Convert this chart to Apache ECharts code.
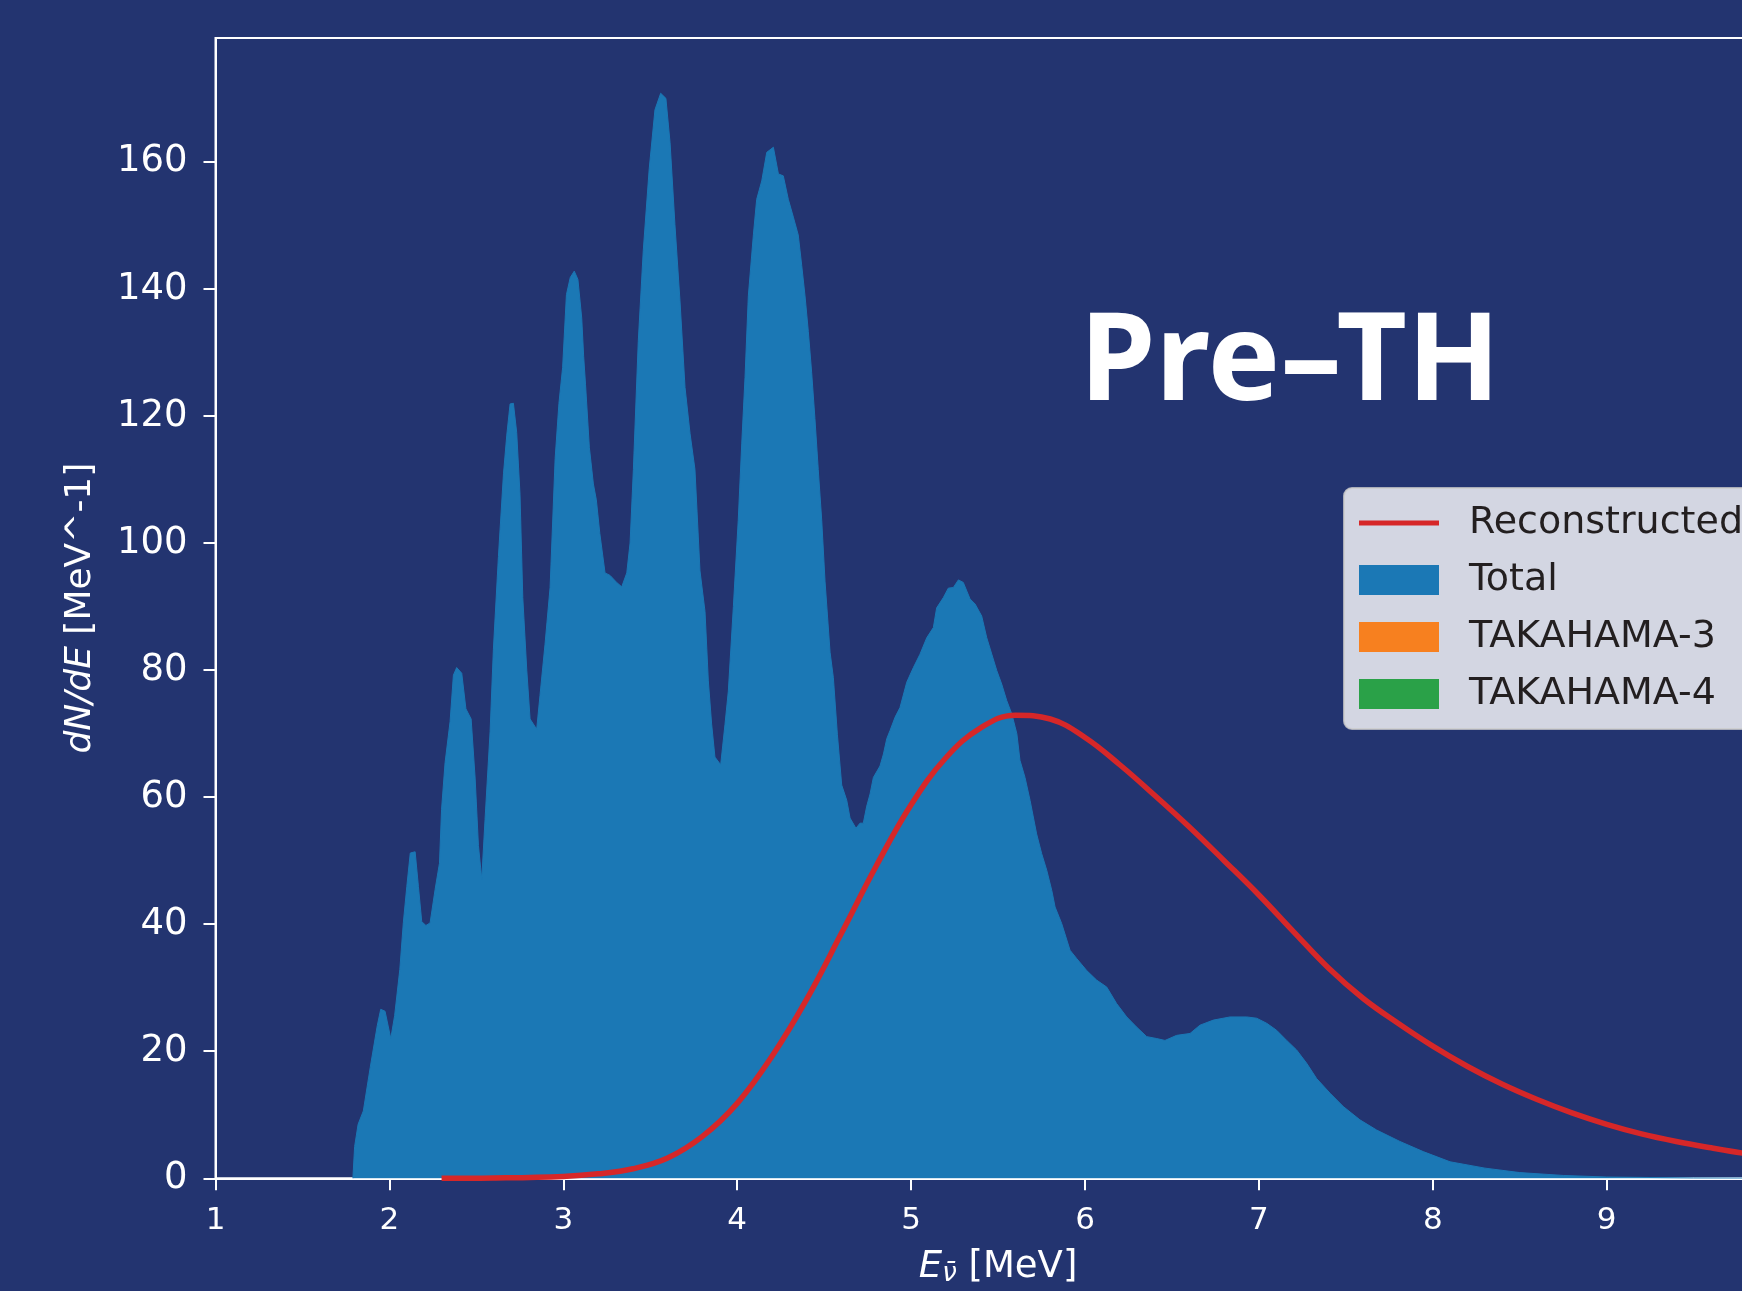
<!DOCTYPE html>
<html>
<head>
<meta charset="utf-8">
<title>Pre-TH</title>
<script src="https://cdn.jsdelivr.net/npm/echarts@6/dist/echarts.min.js"></script>
<style>
    html, body { margin: 0; padding: 0; background: #233470; }
    #chart { width: 1742px; height: 1291px; }
</style>
</head>
<body>
<div id="chart"></div>
<script>
// total spectrum
const totalE = [1.79,1.80,1.82,1.85,1.89,1.93,1.95,1.975,2.008,2.03,2.06,2.08,2.10,2.12,2.148,2.167,2.186,2.21,2.234,2.263,2.288,2.30,2.32,2.349,2.368,2.387,2.416,2.44,2.47,2.493,2.512,2.531,2.55,2.579,2.598,2.627,2.656,2.675,2.694,2.713,2.732,2.751,2.767,2.79,2.809,2.847,2.866,2.895,2.924,2.953,2.975,2.996,3.018,3.04,3.063,3.084,3.106,3.117,3.128,3.15,3.173,3.19,3.21,3.24,3.269,3.307,3.336,3.365,3.384,3.403,3.431,3.46,3.494,3.527,3.56,3.59,3.614,3.642,3.671,3.70,3.729,3.757,3.786,3.815,3.834,3.853,3.872,3.905,3.93,3.949,3.978,4.006,4.026,4.045,4.064,4.093,4.112,4.141,4.17,4.208,4.237,4.265,4.294,4.323,4.351,4.371,4.39,4.409,4.428,4.447,4.466,4.486,4.505,4.534,4.553,4.576,4.601,4.63,4.649,4.683,4.706,4.725,4.745,4.764,4.783,4.821,4.841,4.86,4.879,4.908,4.936,4.975,5.013,5.051,5.09,5.128,5.147,5.185,5.214,5.243,5.272,5.30,5.339,5.368,5.406,5.435,5.464,5.493,5.521,5.55,5.579,5.608,5.626,5.655,5.684,5.722,5.751,5.78,5.809,5.828,5.866,5.914,5.952,6.01,6.067,6.125,6.182,6.24,6.297,6.355,6.412,6.46,6.527,6.604,6.661,6.738,6.834,6.93,6.987,7.045,7.102,7.16,7.217,7.275,7.332,7.409,7.485,7.581,7.677,7.811,7.945,8.099,8.3,8.5,8.75,9.0,9.5,10.0];
const totalN = [0,5,8.5,10.6,17.5,24,26.6,26.3,22.0,25.6,32.9,40.2,45.9,51.2,51.4,45.9,40.4,39.8,40.2,45.5,49.6,58.1,65.4,71.9,79.2,80.4,79.5,73.9,72.3,63.0,52.4,47.1,56.5,70.3,83.3,97.9,110.9,117,121.9,122,117.4,107.7,91.4,80.0,72.3,70.7,76.0,84.1,93.0,113.3,122,127.6,139.1,141.8,142.8,141.5,135.4,129.4,124.9,115,109.3,106.8,101.5,95.3,94.9,93.8,93.1,95.3,100,111.6,131.7,146.1,158.9,168.2,170.8,170.0,163.0,150.1,138.1,124.5,117.2,111.6,95.6,89.2,78.3,71.5,66.3,65.1,71.5,76.7,90.0,103.6,115.6,126.1,138.9,148.5,154.1,157.0,161.5,162.3,158.1,157.8,154.1,151.3,148.5,143.7,138.9,133.3,126.9,119.6,111.6,103.6,94.0,82.8,78.8,69.9,61.9,59.5,56.7,55.1,55.9,55.9,58.6,60.5,63.1,64.9,66.8,69.2,70.5,72.6,74.1,78.1,80.4,82.5,85.1,86.7,89.8,91.4,92.9,93.0,94.2,93.8,91.2,90.4,88.5,85.1,82.5,79.9,77.8,75.2,73.1,70.0,65.8,63.1,59.5,54.2,51.1,48.5,45.3,42.7,40.1,35.9,34.6,32.7,31.2,30.1,27.5,25.4,23.8,22.3,22.0,21.7,22.5,22.8,24.1,24.9,25.4,25.4,25.2,24.4,23.3,21.7,20.2,18.1,15.7,13.4,11.3,9.2,7.6,5.8,4.2,2.6,1.6,0.9,0.45,0.2,0.05,0];

// reconstructed curve
const recoE = [2.3,2.6,3.0,3.2,3.4,3.6,3.8,4.0,4.2,4.4,4.6,4.8,5.0,5.2,5.4,5.6,5.8,6.0,6.2,6.4,6.6,6.8,7.0,7.2,7.4,7.6,7.8,8.0,8.2,8.4,8.6,8.8,9.0,9.2,9.4,9.6,9.8,10.0];
const recoN = [0,0.05,0.3,0.7,1.5,3.2,6.6,11.8,19.2,28.2,38.6,49.2,58.8,66.2,70.9,72.9,72.3,69.4,65.1,60.3,55.3,50.0,44.6,38.8,33.1,28.3,24.4,20.8,17.6,14.8,12.4,10.3,8.5,7.0,5.8,4.8,3.9,3.2];

const xTicks = [1,2,3,4,5,6,7,8,9,10];
const yTicks = [0,20,40,60,80,100,120,140,160];
const legendNames = ['Reconstructed','Total','TAKAHAMA-3','TAKAHAMA-4'];

const bgColor = '#233470';
const blue = '#1b78b5';
const red = '#d62728';

const totalData = totalE.map((e, i) => [e, totalN[i]]);
const recoData = recoE.map((e, i) => [e, recoN[i]]);

const chart = echarts.init(document.getElementById('chart'));
chart.setOption({
    backgroundColor: bgColor,
    animation: false,
    grid: {
        left: 215.5,
        top: 38,
        right: -38.6,
        bottom: 112.7,
        outerBoundsMode: 'none',
        containLabel: false,
        show: true,
        borderColor: '#fff',
        borderWidth: 2,
        backgroundColor: 'transparent'
    },
    graphic: [{
        type: 'text',
        x: 1290,
        y: 365,
        style: {
            text: 'Pre–TH',
            fill: '#fff',
            font: 'bold 122px "Noto Sans"',
            textAlign: 'center',
            textVerticalAlign: 'middle'
        }
    }],
    legend: {
        orient: 'vertical',
        left: 1344,
        top: 488,
        padding: [16, 30, 16, 15],
        itemWidth: 80,
        itemHeight: 30,
        itemGap: 19,
        backgroundColor: 'rgba(255,255,255,0.8)',
        borderColor: 'rgba(204,204,204,0.8)',
        borderWidth: 2,
        borderRadius: 8,
        textStyle: {
            color: '#231f20',
            fontSize: 38,
            lineHeight: 38,
            fontFamily: 'DejaVu Sans',
            padding: [0, 0, 0, 25]
        },
        data: [
            {name: legendNames[0], icon: 'path://M0,0L80,0L80,5L0,5Z', itemStyle: {color: red, borderWidth: 0}},
            {name: legendNames[1], icon: 'rect'},
            {name: legendNames[2], icon: 'rect'},
            {name: legendNames[3], icon: 'rect'}
        ]
    },
    xAxis: {
        type: 'value',
        min: 1,
        max: 10,
        interval: 1,
        name: '{e|E}{n|ν̄} [MeV]',
        nameLocation: 'middle',
        nameGap: 69,
        nameTextStyle: {
            color: '#fff',
            fontSize: 37,
            fontFamily: 'DejaVu Sans',
            lineHeight: 40,
            rich: {
                e: {color: '#fff', fontSize: 37, fontStyle: 'italic', fontFamily: 'DejaVu Sans', lineHeight: 40},
                n: {color: '#fff', fontSize: 26, fontStyle: 'italic', fontFamily: 'DejaVu Sans', verticalAlign: 'bottom', lineHeight: 40}
            }
        },
        axisLine: {onZero: false, lineStyle: {color: '#fff', width: 2}},
        axisTick: {show: true, length: 12, lineStyle: {color: '#fff', width: 2}, customValues: xTicks},
        axisLabel: {color: '#fff', fontSize: 31, fontFamily: 'DejaVu Sans', margin: 27, customValues: xTicks},
        splitLine: {show: false}
    },
    yAxis: {
        type: 'value',
        min: 0,
        max: 179.5,
        interval: 20,
        name: '{i|dN/dE} [MeV^-1]',
        nameLocation: 'middle',
        nameGap: 117,
        nameTextStyle: {
            color: '#fff',
            fontSize: 36,
            fontFamily: 'DejaVu Sans',
            rich: {
                i: {color: '#fff', fontSize: 36, fontStyle: 'italic', fontFamily: 'DejaVu Sans'}
            }
        },
        axisLine: {show: true, lineStyle: {color: '#fff', width: 2}},
        axisTick: {show: true, length: 12, lineStyle: {color: '#fff', width: 2}, customValues: yTicks},
        axisLabel: {color: '#fff', fontSize: 37, fontFamily: 'DejaVu Sans', margin: 28, customValues: yTicks},
        splitLine: {show: false}
    },
    series: [
        {
            name: 'Total',
            type: 'line',
            data: totalData,
            symbol: 'none',
            showSymbol: false,
            itemStyle: {color: blue},
            lineStyle: {color: blue, width: 1},
            areaStyle: {color: blue, opacity: 1},
            z: 2
        },
        {
            name: 'TAKAHAMA-3',
            type: 'line',
            data: [],
            symbol: 'none',
            itemStyle: {color: '#f7801f'},
            areaStyle: {color: '#f7801f'}
        },
        {
            name: 'TAKAHAMA-4',
            type: 'line',
            data: [],
            symbol: 'none',
            itemStyle: {color: '#2aa148'},
            areaStyle: {color: '#2aa148'}
        },
        {
            name: 'Reconstructed',
            type: 'line',
            data: recoData,
            smooth: 0.4,
            symbol: 'none',
            showSymbol: false,
            itemStyle: {color: red},
            lineStyle: {color: red, width: 5.5},
            z: 5
        }
    ]
});
</script>
</body>
</html>
